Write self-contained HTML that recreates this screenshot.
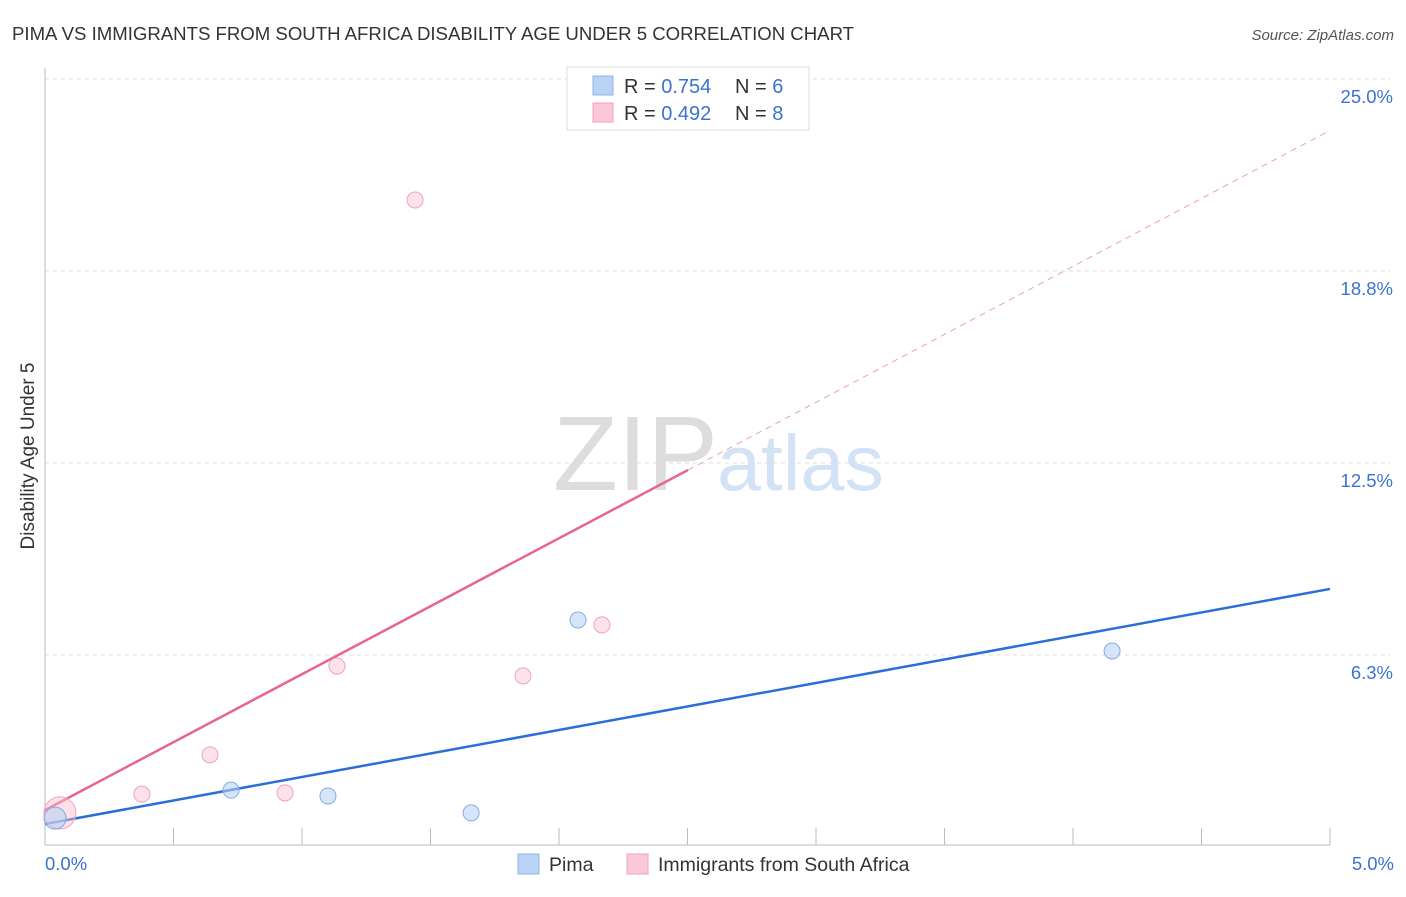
<!DOCTYPE html>
<html><head><meta charset="utf-8">
<style>
body{margin:0;background:#fff;font-family:"Liberation Sans",sans-serif;}
svg text{font-family:"Liberation Sans",sans-serif;}
</style></head>
<body>
<svg id="chart" width="1406" height="892" xmlns="http://www.w3.org/2000/svg">
<text x="12" y="40" font-size="18.6" fill="#333">PIMA VS IMMIGRANTS FROM SOUTH AFRICA DISABILITY AGE UNDER 5 CORRELATION CHART</text>
<text x="1394" y="40" font-size="15" fill="#555" text-anchor="end" font-style="italic">Source: ZipAtlas.com</text>
<text transform="translate(34,456) rotate(-90)" font-size="19" fill="#333" text-anchor="middle">Disability Age Under 5</text>
<g>
<text x="553" y="490" font-size="106" fill="#ddd" font-family="Liberation Serif,serif">ZIP</text>
<text x="717" y="490" font-size="79" fill="#d3e2f5">atlas</text>
</g>
<g id="grid"></g><g id="axes"></g><g id="lines"></g><g id="points"></g>
<g>
<rect x="567" y="67" width="242" height="63" fill="#fff" stroke="#ddd"/>
<rect x="593" y="76" width="20" height="19" fill="#b8d3f5" stroke="#8fb5e6"/>
<text x="624" y="93" font-size="20" fill="#333">R = <tspan fill="#3a73d0">0.754</tspan></text>
<text x="735" y="93" font-size="20" fill="#333">N = <tspan fill="#3a73d0">6</tspan></text>
<rect x="593" y="103" width="20" height="19" fill="#fac8d7" stroke="#f0a0b8"/>
<text x="624" y="120" font-size="20" fill="#333">R = <tspan fill="#3a73d0">0.492</tspan></text>
<text x="735" y="120" font-size="20" fill="#333">N = <tspan fill="#3a73d0">8</tspan></text>
</g>
<g>
<rect x="518" y="854" width="21" height="20" fill="#b8d3f5" stroke="#8fb5e6"/>
<text x="549" y="871" font-size="19.5" fill="#333">Pima</text>
<rect x="627" y="854" width="21" height="20" fill="#fac8d7" stroke="#f0a0b8"/>
<text x="658" y="871" font-size="19.5" fill="#333">Immigrants from South Africa</text>
</g>
</svg>
<script>
const yTicks=[6.25,12.5,18.75,25];
const yTickLabels=["6.3%","12.5%","18.8%","25.0%"];
const pimaX=[0.039,0.724,1.101,1.658,2.074,4.152];
const pimaY=[0.94,1.85,1.66,1.11,7.39,6.38];
const pimaR=[11,8,8,8,8,8];
const safX=[0.058,0.377,0.642,0.934,1.136,1.44,1.86,2.167];
const safY=[1.11,1.72,3.0,1.76,5.89,21.06,5.57,7.23];
const safR=[16,8,8,8,8,8,8,8];
const pimaLine=[0.749,8.40];
const safLine=[1.2,4.425];
const xSolidEnd=2.502;
const X=v=>45+v/5*1285, Y=v=>847-v/6.25*192;
const NS="http://www.w3.org/2000/svg";
function mk(p,t,a){const e=document.createElementNS(NS,t);for(const k in a)e.setAttribute(k,a[k]);document.getElementById(p).appendChild(e);return e;}
yTicks.forEach((t,i)=>{
 const g=mk('grid','line',{x1:45,x2:1390,y1:Y(t),y2:Y(t),stroke:'#ddd','stroke-dasharray':'4,4'});
 
 
 const l=mk('grid','text',{x:1393,y:Y(t)+24,'font-size':18.5,fill:'#3a73d0','text-anchor':'end'});
 l.textContent=yTickLabels[i];
 
 
});
const ax=mk('axes','line',{x1:45,x2:45,y1:68,y2:845,stroke:'#bbb'});


const bx=mk('axes','line',{x1:45,x2:1330,y1:845,y2:845,stroke:'#bbb'});


for(let i=1;i<=10;i++){const t=mk('axes','line',{x1:X(i*0.5),x2:X(i*0.5),y1:828,y2:845,stroke:'#bbb'});
 
 }
[["0.0%",45,'start'],["5.0%",1394,'end']].forEach(d=>{const t=mk('axes','text',{x:d[1],y:870,'font-size':18.5,fill:'#3a73d0','text-anchor':d[2]});t.textContent=d[0];
 
 });
const bl=mk('lines','line',{x1:X(0),y1:Y(pimaLine[0]),x2:X(5),y2:Y(pimaLine[1]),stroke:'#2a6fd6','stroke-width':2.5});


const pl=mk('lines','line',{x1:X(0),y1:Y(safLine[0]),x2:X(xSolidEnd),y2:Y(safLine[0]+safLine[1]*xSolidEnd),stroke:'#e8668e','stroke-width':2.5});


const pd=mk('lines','line',{x1:X(xSolidEnd),y1:Y(safLine[0]+safLine[1]*xSolidEnd),x2:X(5),y2:Y(safLine[0]+safLine[1]*5),stroke:'#eba0b6','stroke-width':1,'stroke-dasharray':'6,5'});


safX.forEach((x,i)=>{const c=mk('points','circle',{cx:X(x),cy:Y(safY[i]),r:safR[i],fill:'rgba(250,190,208,0.45)',stroke:'#eea3bb'});
 
 });
pimaX.forEach((x,i)=>{const c=mk('points','circle',{cx:X(x),cy:Y(pimaY[i]),r:pimaR[i],fill:'rgba(180,208,245,0.55)',stroke:'#86ace0'});
 
 });
</script>
</body></html>
